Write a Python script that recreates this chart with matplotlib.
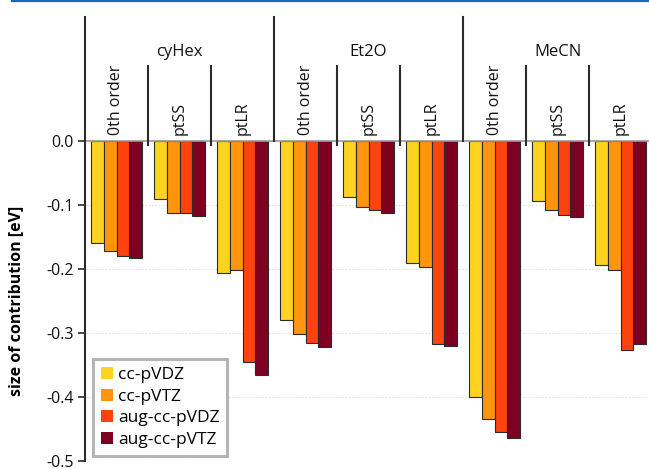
import matplotlib
matplotlib.use("Agg")
import matplotlib.pyplot as plt
import numpy as np
from matplotlib.lines import Line2D

# data -------------------------------------------------------------------
solvents = ["cyHex", "Et2O", "MeCN"]
terms = ["0th order", "ptSS", "ptLR"]
basis_sets = ["cc-pVDZ", "cc-pVTZ", "aug-cc-pVDZ", "aug-cc-pVTZ"]

# one value per (solvent, term) in order cyHex/0th, cyHex/ptSS, ... MeCN/ptLR
cc_pvdz = [-0.159, -0.090, -0.207, -0.279, -0.088, -0.190, -0.400, -0.094, -0.193]
cc_pvtz = [-0.172, -0.113, -0.202, -0.302, -0.103, -0.197, -0.435, -0.108, -0.202]
aug_cc_pvdz = [-0.179, -0.113, -0.345, -0.315, -0.108, -0.317, -0.455, -0.115, -0.326]
aug_cc_pvtz = [-0.183, -0.117, -0.365, -0.322, -0.112, -0.320, -0.464, -0.118, -0.317]

yticks = [0.0, -0.1, -0.2, -0.3, -0.4, -0.5]

COLORS = ["#FFD320", "#FF950E", "#FF420E", "#7E0021"]
INK = "#2b2b2b"

plt.rcParams.update({
    "font.family": ["Open Sans", "DejaVu Sans"],
    "font.size": 11,
})

W, H = 649, 469
fig = plt.figure(figsize=(W / 100, H / 100), dpi=100, facecolor="white")

x_left, x_right = 85, 652
y_zero, y_bot, y_head = 141, 461, 17

ax = fig.add_axes([x_left / W, (H - y_bot) / H, (x_right - x_left) / W, (y_bot - y_zero) / H])
hd = fig.add_axes([x_left / W, (H - y_zero) / H, (x_right - x_left) / W, (y_zero - y_head) / H])

series = [cc_pvdz, cc_pvtz, aug_cc_pvdz, aug_cc_pvtz]
n = len(cc_pvdz)
xs = np.arange(n) + 0.5
w = 0.2
for k, (vals, col, lab) in enumerate(zip(series, COLORS, basis_sets)):
    ax.bar(xs + (k - 1.5) * w, vals, w, color=col, edgecolor=INK, linewidth=0.8,
           label=lab, zorder=3)

ax.set_xlim(0, n)
ax.set_ylim(-0.5, 0.0)
ax.set_yticks(yticks)
ax.set_yticklabels([f"{t:.1f}" for t in yticks])
ax.set_xticks([])
for t in yticks[1:]:
    ax.axhline(t, color="#e2e2e2", lw=0.8, ls=(0, (1.5, 1.5)), zorder=1)
ax.axhline(0.0, color="#9a9a9a", lw=1.2, zorder=4, clip_on=False)
for s in ("top", "right", "bottom"):
    ax.spines[s].set_visible(False)
ax.spines["left"].set_color(INK)
ax.spines["left"].set_linewidth(1.5)
ax.tick_params(axis="y", direction="out", length=5, width=1.2, color=INK,
               labelsize=11.5, labelcolor="#111111", pad=3)
ax.set_ylabel("size of contribution [eV]", fontweight="bold", fontsize=11.5, labelpad=16)

leg = ax.legend(loc="lower left", bbox_to_anchor=(8 / 567, 5 / 320), borderaxespad=0,
                fancybox=False, framealpha=1, edgecolor="#b5b5b5", fontsize=12.5,
                handlelength=0.7, handleheight=0.7, handletextpad=0.3,
                labelspacing=0.32, borderpad=0.45)
leg.get_frame().set_linewidth(2.2)
for h in leg.legend_handles:
    h.set_edgecolor("none")

# header with category labels -------------------------------------------
hd.set_xlim(0, n)
hd.set_ylim(0, 1)
hd.axis("off")
ext = -4 / (y_zero - y_head)
sub_top = (y_zero - 66) / (y_zero - y_head)
for i in range(n + 1):
    if i % 3 == 0:
        hd.plot([i, i], [0, 1], color=INK, lw=1.5, clip_on=False)
    else:
        hd.plot([i, i], [ext, sub_top], color=INK, lw=1.5, clip_on=False)
for g, name in enumerate(solvents):
    hd.text(g * 3 + 1.5, 0.72, name, ha="center", va="center", fontsize=12, color="#111111")
    for j, term in enumerate(terms):
        hd.text(g * 3 + j + 0.5, 0.045, term, rotation=90, ha="center", va="bottom",
                fontsize=11.5, color="#111111")

fig.add_artist(Line2D([12 / W, 1], [1 - 1 / H, 1 - 1 / H], color="#1a66b8", lw=1.6))

fig.savefig("out.png", dpi=100, facecolor="white")
